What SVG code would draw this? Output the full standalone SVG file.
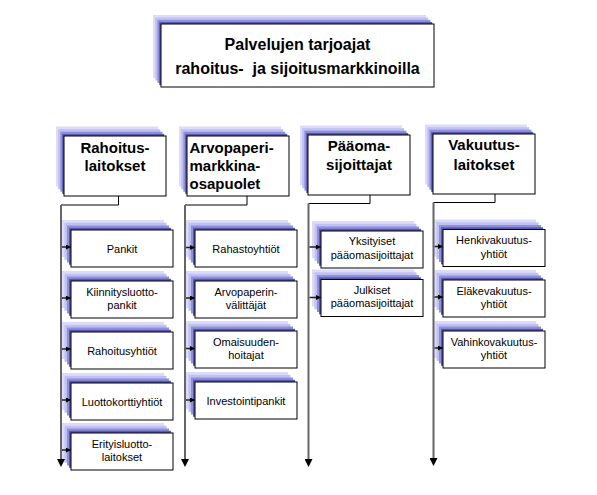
<svg xmlns="http://www.w3.org/2000/svg" xmlns:xlink="http://www.w3.org/1999/xlink" width="597" height="495" viewBox="0 0 597 495">
<style>
.box{fill:#fff;stroke:#000;stroke-width:1}
.s1{fill:#dcdcfa}.s2{fill:#c0c0f2}.s3{fill:#9090da}.s4{fill:#5858b4}
.t{font-family:"Liberation Sans",Arial,sans-serif;fill:#000;text-anchor:middle}
.tt{font-size:16px;font-weight:bold}
.th{font-size:15px;font-weight:bold}
.ts{font-size:11px}
.lft{text-anchor:start}
.link{fill:none;stroke:#000;stroke-width:1}
.trunk{fill:none;stroke:#666;stroke-width:2;marker-end:url(#big)}
.branch{fill:none;stroke:#222;stroke-width:1.5;marker-end:url(#small)}
</style>
<defs>
<marker id="big" viewBox="0 0 10 10" refX="2.5" refY="5" markerWidth="8" markerHeight="8" markerUnits="userSpaceOnUse" orient="auto"><path d="M0,0 L10,5 L0,10 z" fill="#000"/></marker>
<marker id="small" viewBox="0 0 10 10" refX="10" refY="5" markerWidth="5" markerHeight="5" markerUnits="userSpaceOnUse" orient="auto"><path d="M0,0 L10,5 L0,10 z" fill="#000"/></marker>
<g id="shS">
<rect class="s1" x="-9" y="-10" width="102" height="37"/>
<rect class="s2" x="-6.5" y="-7.2" width="102" height="37"/>
<rect class="s3" x="-4" y="-4.5" width="102" height="37"/>
<rect class="s4" x="-2" y="-2.2" width="102" height="37"/>
</g>
<g id="shH">
<rect class="s1" x="-8" y="-9.5" width="102" height="60"/>
<rect class="s2" x="-5.8" y="-6.8" width="102" height="60"/>
<rect class="s3" x="-3.6" y="-4.3" width="102" height="60"/>
<rect class="s4" x="-1.8" y="-2.1" width="102" height="60"/>
</g>
<g id="shT">
<rect class="s1" x="-8" y="-9" width="273" height="63"/>
<rect class="s2" x="-5.8" y="-6.5" width="273" height="63"/>
<rect class="s3" x="-3.6" y="-4.1" width="273" height="63"/>
<rect class="s4" x="-1.8" y="-2" width="273" height="63"/>
</g>
</defs>

<g id="top" transform="translate(161,24)">
<use xlink:href="#shT"/>
<rect class="box" width="273" height="63"/>
<text class="t tt" x="136.5" y="26">Palvelujen tarjoajat</text>
<text class="t tt" x="136.5" y="50" xml:space="preserve">rahoitus-  ja sijoitusmarkkinoilla</text>
</g>

<g id="h-rahoitus" transform="translate(64,136)">
<use xlink:href="#shH"/>
<rect class="box" width="102" height="60"/>
<text class="t th" x="51" y="16.5">Rahoitus-</text>
<text class="t th" x="51" y="35">laitokset</text>
</g>
<g id="h-arvopaperi" transform="translate(187,136)">
<use xlink:href="#shH"/>
<rect class="box" width="102" height="60"/>
<text class="t th lft" x="2.5" y="16.5">Arvopaperi-</text>
<text class="t th lft" x="2.5" y="34.5">markkina-</text>
<text class="t th lft" x="2.5" y="52.5">osapuolet</text>
</g>
<g id="h-paaoma" transform="translate(308,135)">
<use xlink:href="#shH"/>
<rect class="box" width="102" height="60"/>
<text class="t th" x="51" y="15.5">Pääoma-</text>
<text class="t th" x="51" y="34.5">sijoittajat</text>
</g>
<g id="h-vakuutus" transform="translate(433,134)">
<use xlink:href="#shH"/>
<rect class="box" width="102" height="60"/>
<text class="t th" x="51" y="16">Vakuutus-</text>
<text class="t th" x="51" y="35.5">laitokset</text>
</g>

<g id="n-pankit" transform="translate(71,230)"><use xlink:href="#shS"/><rect class="box" width="102" height="37"/><text class="t ts" x="51" y="22.5">Pankit</text></g>
<g id="n-kiinnitys" transform="translate(71,281)"><use xlink:href="#shS"/><rect class="box" width="102" height="37"/><text class="t ts" x="51" y="14.5">Kiinnitysluotto-</text><text class="t ts" x="51" y="28">pankit</text></g>
<g id="n-rahoitusyhtiot" transform="translate(71,332)"><use xlink:href="#shS"/><rect class="box" width="102" height="37"/><text class="t ts" x="51" y="22.5">Rahoitusyhtiöt</text></g>
<g id="n-luottokortti" transform="translate(71,383)"><use xlink:href="#shS"/><rect class="box" width="102" height="37"/><text class="t ts" x="51" y="22.5">Luottokorttiyhtiöt</text></g>
<g id="n-erityis" transform="translate(71,433)"><use xlink:href="#shS"/><rect class="box" width="102" height="37"/><text class="t ts" x="51" y="14.5">Erityisluotto-</text><text class="t ts" x="51" y="28">laitokset</text></g>

<g id="n-rahasto" transform="translate(195,230)"><use xlink:href="#shS"/><rect class="box" width="102" height="37"/><text class="t ts" x="51" y="22.5">Rahastoyhtiöt</text></g>
<g id="n-valittajat" transform="translate(195,281)"><use xlink:href="#shS"/><rect class="box" width="102" height="37"/><text class="t ts" x="51" y="14.5">Arvopaperin-</text><text class="t ts" x="51" y="28">välittäjät</text></g>
<g id="n-omaisuuden" transform="translate(195,331)"><use xlink:href="#shS"/><rect class="box" width="102" height="37"/><text class="t ts" x="51" y="14.5">Omaisuuden-</text><text class="t ts" x="51" y="28">hoitajat</text></g>
<g id="n-investointi" transform="translate(195,382)"><use xlink:href="#shS"/><rect class="box" width="102" height="37"/><text class="t ts" x="51" y="22.5">Investointipankit</text></g>

<g id="n-yksityiset" transform="translate(321,231)"><use xlink:href="#shS"/><rect class="box" width="102" height="37"/><text class="t ts" x="51" y="14">Yksityiset</text><text class="t ts" x="51" y="27.5">pääomasijoittajat</text></g>
<g id="n-julkiset" transform="translate(321,279.5)"><use xlink:href="#shS"/><rect class="box" width="102" height="37"/><text class="t ts" x="51" y="14">Julkiset</text><text class="t ts" x="51" y="27.5">pääomasijoittajat</text></g>

<g id="n-henki" transform="translate(443,229.5)"><use xlink:href="#shS"/><rect class="box" width="102" height="37"/><text class="t ts" x="51" y="14.5">Henkivakuutus-</text><text class="t ts" x="51" y="28">yhtiöt</text></g>
<g id="n-elake" transform="translate(443,280)"><use xlink:href="#shS"/><rect class="box" width="102" height="37"/><text class="t ts" x="51" y="14.5">Eläkevakuutus-</text><text class="t ts" x="51" y="28">yhtiöt</text></g>
<g id="n-vahinko" transform="translate(443,331)"><use xlink:href="#shS"/><rect class="box" width="102" height="37"/><text class="t ts" x="51" y="14.5">Vahinkovakuutus-</text><text class="t ts" x="51" y="28">yhtiöt</text></g>

<g id="connectors">
<path class="link" d="M118.5,196 V205 H61"/>
<path class="link" d="M247,196 V205 H185"/>
<path class="link" d="M370,195 V203.5 H308.5"/>
<path class="link" d="M495,194 V202.5 H433.5"/>
<path class="trunk" d="M61,205 V461"/>
<path class="trunk" d="M185,205 V461"/>
<path class="trunk" d="M308.5,203.5 V461"/>
<path class="trunk" d="M433.5,202.5 V460"/>
<path class="branch" d="M62,247 H71"/>
<path class="branch" d="M62,298 H71"/>
<path class="branch" d="M62,349 H71"/>
<path class="branch" d="M62,400 H71"/>
<path class="branch" d="M62,450 H71"/>
<path class="branch" d="M186,247.5 H195"/>
<path class="branch" d="M186,298 H195"/>
<path class="branch" d="M186,348.5 H195"/>
<path class="branch" d="M186,400 H195"/>
<path class="branch" d="M309.5,247 H321"/>
<path class="branch" d="M309.5,297.5 H321"/>
<path class="branch" d="M434.5,246.5 H443"/>
<path class="branch" d="M434.5,297 H443"/>
<path class="branch" d="M434.5,348 H443"/>
</g>
</svg>
